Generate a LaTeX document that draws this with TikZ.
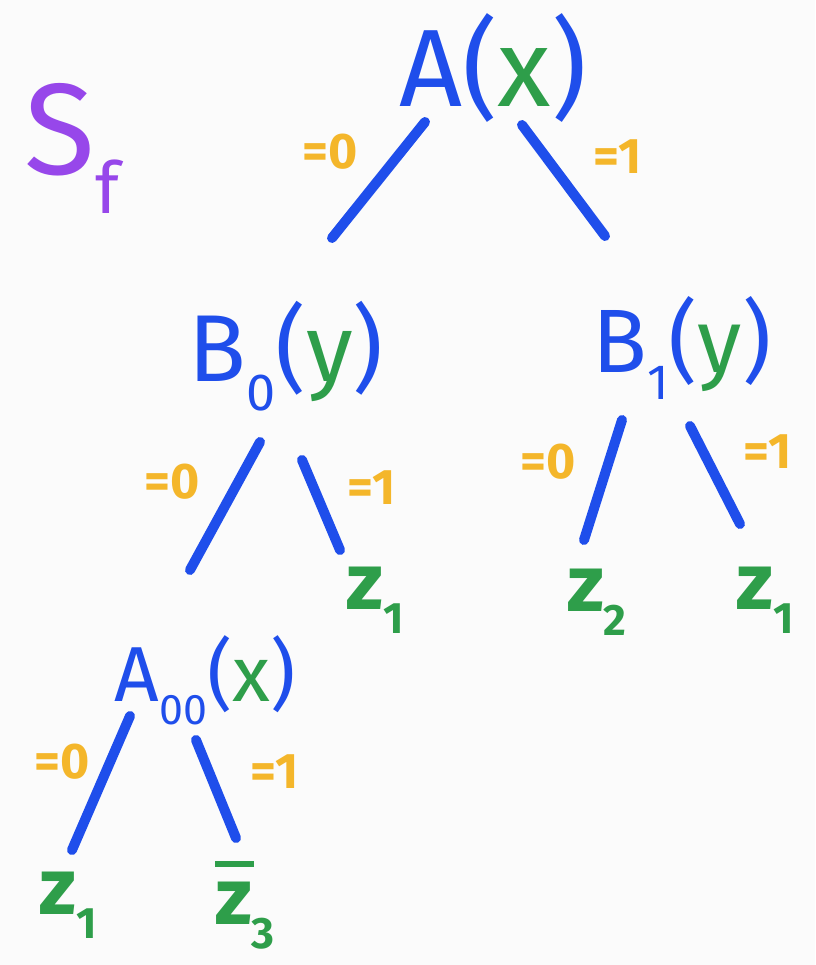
\documentclass[tikz,border=0pt]{standalone}
\usepackage{fontspec}
\setmainfont{Fira Sans}
\usepackage{graphicx}
\definecolor{hblue}{HTML}{1F4EEB}
\definecolor{hgreen}{HTML}{2E9E4A}
\definecolor{hyellow}{HTML}{F4B62A}
\definecolor{hpurple}{HTML}{9747EA}
\definecolor{hbg}{HTML}{FBFBFB}
\newcommand\fsz[1]{\fontsize{#1}{#1}\selectfont}
\newcommand\lsub[1]{\raisebox{-0.3em}{\scalebox{0.55}{#1}}}
\newcommand\zbar{\makebox[0pt][l]{\raisebox{0.72em}{\rule{0.48em}{0.07em}}}z}
\begin{document}
\begin{tikzpicture}[x=1pt,y=-1pt,
  edge/.style={hblue,line width=10pt,line cap=round},
  head/.style={inner sep=0pt,text=hblue},
  leaf/.style={inner sep=0pt,text=hgreen,font=\fsz{80}\bfseries},
  val/.style={inner sep=0pt,text=hyellow,font=\fsz{50}\bfseries}]
\fill[hbg] (0,0) rectangle (815,965);
\useasboundingbox (0,0) rectangle (815,965);
% title
\node[inner sep=0pt,text=hpurple,font=\fsz{130}] (S) at (72,148) {S\lsub{f}};
% root
\node[head,font=\fsz{110}] (A) at (493,68) {A(\textcolor{hgreen}{x})};
\coordinate (aL1) at (425,122); \coordinate (aL2) at (332,238);
\coordinate (aR1) at (522,125); \coordinate (aR2) at (605,236);
\draw[edge] (aL1) -- (aL2);
\draw[edge] (aR1) -- (aR2);
\node[val] (vA0) at (330,152) {=0};
\node[val] (vA1) at (618,157) {=1};
% B0
\node[head,font=\fsz{95}] (B0) at (286,356) {B\lsub{0}(\textcolor{hgreen}{y})};
\coordinate (b0L1) at (260,442); \coordinate (b0L2) at (190,570);
\coordinate (b0R1) at (302,460); \coordinate (b0R2) at (340,550);
\draw[edge] (b0L1) -- (b0L2);
\draw[edge] (b0R1) -- (b0R2);
\node[val] (vB00) at (172,482) {=0};
\node[val] (vB01) at (372,488) {=1};
\node[leaf] (z1a) at (375,600) {z\lsub{1}};
% B1
\node[head,font=\fsz{90}] (B1) at (682,348) {B\lsub{1}(\textcolor{hgreen}{y})};
\coordinate (b1L1) at (622,420); \coordinate (b1L2) at (584,540);
\coordinate (b1R1) at (690,426); \coordinate (b1R2) at (740,524);
\draw[edge] (b1L1) -- (b1L2);
\draw[edge] (b1R1) -- (b1R2);
\node[val] (vB10) at (548,462) {=0};
\node[val] (vB11) at (768,452) {=1};
\node[leaf] (z2) at (597,602) {z\lsub{2}};
\node[leaf] (z1b) at (765,600) {z\lsub{1}};
% A00
\node[head,font=\fsz{78}] (A00) at (205,680) {A\lsub{00}(\textcolor{hgreen}{x})};
\coordinate (cL1) at (130,716); \coordinate (cL2) at (72,850);
\coordinate (cR1) at (196,740); \coordinate (cR2) at (236,838);
\draw[edge] (cL1) -- (cL2);
\draw[edge] (cR1) -- (cR2);
\node[val] (vC0) at (62,762) {=0};
\node[val] (vC1) at (275,772) {=1};
\node[leaf] (z1c) at (68,905) {z\lsub{1}};
\node[leaf] (z3) at (245,905) {\zbar\lsub{3}};
\end{tikzpicture}
\end{document}
